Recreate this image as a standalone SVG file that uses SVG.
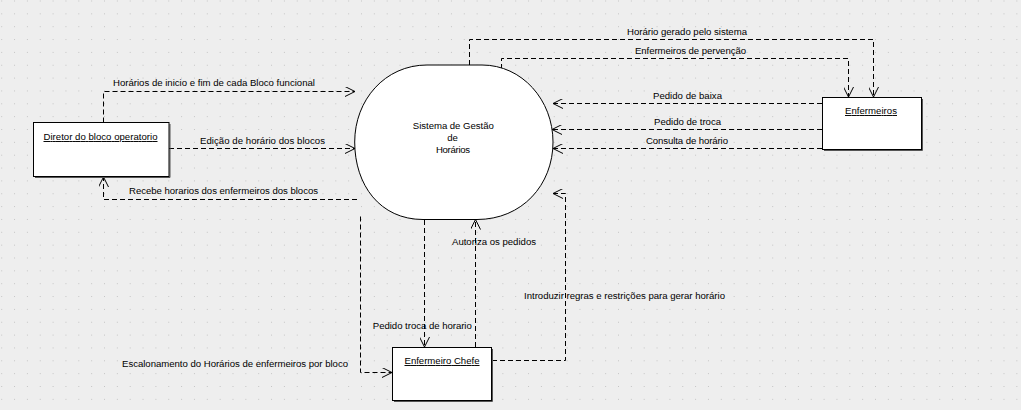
<svg xmlns="http://www.w3.org/2000/svg" width="1021" height="410" viewBox="0 0 1021 410">
<style>
text{font-family:"Liberation Sans",Arial,sans-serif;font-size:9.6px;fill:#000}
.c{text-anchor:middle}
.u{text-decoration:underline}
.box{fill:#fff;stroke:#000;stroke-width:1}
.sh{fill:none;stroke:#555;stroke-width:1}
.flow{fill:none;stroke:#000;stroke-width:1;stroke-dasharray:5,3}
</style>
<defs>
<pattern id="grid" x="1.2" y="0.5" width="12.85" height="12.85" patternUnits="userSpaceOnUse">
<rect x="0" y="0" width="1" height="1" fill="#c4c4c4"/>
</pattern>
<marker id="arr" viewBox="0 0 10 10" refX="10" refY="5" markerWidth="10" markerHeight="10" markerUnits="userSpaceOnUse" orient="auto">
<path d="M0,0 L10,5 L0,10" fill="none" stroke="#000" stroke-width="1" stroke-dasharray="none"/>
</marker>
</defs>
<rect width="1021" height="410" fill="#eeeeee"/>
<rect width="1021" height="410" fill="url(#grid)"/>

<g id="connectors">
<path class="flow" d="M103.5,122.5 V91.5 H355" marker-end="url(#arr)"/>
<path class="flow" d="M169,148.5 H355" marker-end="url(#arr)"/>
<path class="flow" d="M357,199.5 H103.5 V177" marker-end="url(#arr)"/>
<path class="flow" d="M469.5,65 V39.5 H873.5 V97" marker-end="url(#arr)"/>
<path class="flow" d="M501.5,69 V58.5 H848.5 V97" marker-end="url(#arr)"/>
<path class="flow" d="M822,103.5 H553" marker-end="url(#arr)"/>
<path class="flow" d="M822,129.5 H552" marker-end="url(#arr)"/>
<path class="flow" d="M822,148.5 H553" marker-end="url(#arr)"/>
<path class="flow" d="M424.5,220 V347" marker-end="url(#arr)"/>
<path class="flow" d="M475.5,347 V219.5" marker-end="url(#arr)"/>
<path class="flow" d="M492,360.5 H565.5 V193.5 H553" marker-end="url(#arr)"/>
<path class="flow" d="M360.5,216.5 V372.5 H392" marker-end="url(#arr)"/>
<text x="214" y="86" class="c" textLength="202" lengthAdjust="spacing">Horários de inicio e fim de cada Bloco funcional</text>
<text x="262.5" y="144" class="c" textLength="125" lengthAdjust="spacing">Edição de horário dos blocos</text>
<text x="223.5" y="194" class="c" textLength="189" lengthAdjust="spacing">Recebe horarios dos enfermeiros dos blocos</text>
<text x="687" y="35" class="c" textLength="120" lengthAdjust="spacing">Horário gerado pelo sistema</text>
<text x="690.5" y="54" class="c" textLength="111" lengthAdjust="spacing">Enfermeiros de pervenção</text>
<text x="687.5" y="99" class="c" textLength="69" lengthAdjust="spacing">Pedido de baixa</text>
<text x="687.5" y="125" class="c" textLength="67" lengthAdjust="spacing">Pedido de troca</text>
<text x="687" y="144" class="c" textLength="82" lengthAdjust="spacing">Consulta de horário</text>
<text x="422.3" y="328.5" class="c" textLength="99" lengthAdjust="spacing">Pedido troca de horario</text>
<text x="494" y="245" class="c" textLength="84" lengthAdjust="spacing">Autoriza os pedidos</text>
<text x="624.5" y="298.5" class="c" textLength="201" lengthAdjust="spacing">Introduzir regras e restrições para gerar horário</text>
<text x="235" y="367" class="c" textLength="226" lengthAdjust="spacing">Escalonamento do Horários de enfermeiros por bloco</text>
</g>

<g id="sistema">
<path d="M427,65 L482,65 C522,65 553,100 553,142 C553,185 522,219.5 477,219.5 L423,219.5 C380,219.5 354.7,185 354.7,142 C354.7,100 385,65 427,65 Z" fill="#fff" stroke="#000" stroke-width="1"/>
<text x="453.3" y="129.3" class="c" textLength="81" lengthAdjust="spacing">Sistema de Gestão</text>
<text x="452.5" y="141" class="c">de</text>
<text x="453" y="152.7" class="c" textLength="34" lengthAdjust="spacing">Horários</text>
</g>

<g id="diretor">
<path class="sh" d="M170,124 V177.5 H35"/>
<rect class="box" x="33.5" y="122.5" width="135.5" height="54"/>
<text x="100.5" y="140" class="c u" textLength="114" lengthAdjust="spacing">Diretor do bloco operatorio</text>
</g>

<g id="enfermeiros">
<path class="sh" d="M922.5,99 V150.5 H824"/>
<rect class="box" x="822.5" y="97.5" width="99" height="52"/>
<text x="871" y="114" class="c u" textLength="52" lengthAdjust="spacing">Enfermeiros</text>
</g>

<g id="enfermeiro-chefe">
<path class="sh" d="M492.5,349 V401.5 H394"/>
<rect class="box" x="392.5" y="347.5" width="99" height="53"/>
<text x="442" y="364" class="c u" textLength="75" lengthAdjust="spacing">Enfermeiro Chefe</text>
</g>
</svg>
